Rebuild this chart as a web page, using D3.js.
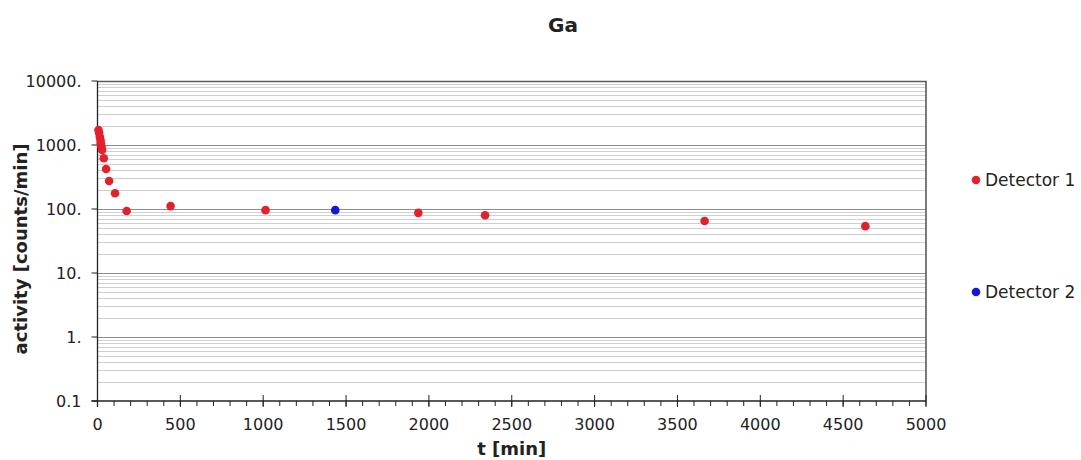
<!DOCTYPE html>
<html>
<head>
<meta charset="utf-8">
<script src="https://cdn.jsdelivr.net/npm/d3@7"></script>
<style>
  body { margin: 0; background: #fff; }
  text { font-family: "DejaVu Sans", Verdana, sans-serif; fill: #222; }
</style>
</head>
<body>
<div id="chart"></div>
<script>
// Ga decay measurements
var det1Time = [6, 10, 14, 18, 20, 24, 28, 38, 52, 70, 106, 176, 441, 1014, 1936, 2339, 3664, 4634];
var det1Act  = [1714, 1540, 1349, 1197, 1064, 940, 835, 620, 422, 274, 176, 93, 111, 96, 87, 80, 65, 54];
var det2Time = [1435];
var det2Act  = [96];
var seriesNames = ["Detector 1", "Detector 2"];
var xTicks = [0, 500, 1000, 1500, 2000, 2500, 3000, 3500, 4000, 4500, 5000];
var yTicks = [0.1, 1, 10, 100, 1000, 10000];
var yLabels = ["0.1", "1.", "10.", "100.", "1000.", "10000."];

var margin = {top: 81, right: 155, bottom: 59, left: 97.5},
    width = 1081 - margin.left - margin.right,
    height = 460 - margin.top - margin.bottom;

var svg = d3.select("#chart").append("svg")
    .attr("width", 1081)
    .attr("height", 460);

var g = svg.append("g")
    .attr("transform", "translate(" + margin.left + "," + margin.top + ")");

var x = d3.scaleLinear().domain([0, 5000]).range([0, width]);
var y = d3.scaleLog().domain([0.1, 10000]).range([height, 0]);

// minor + major grid lines
var minor = [];
yTicks.slice(0, -1).forEach(function(d) {
  for (var k = 2; k <= 9; k++) minor.push(d * k);
});
g.selectAll(".minor").data(minor).enter().append("line")
    .attr("x1", 0).attr("x2", width)
    .attr("y1", function(d) { return Math.round(y(d)) + 0.5; })
    .attr("y2", function(d) { return Math.round(y(d)) + 0.5; })
    .style("stroke", "#cfcfcf");
g.selectAll(".major").data(yTicks.slice(1)).enter().append("line")
    .attr("x1", 0).attr("x2", width)
    .attr("y1", function(d) { return Math.round(y(d)) + 0.5; })
    .attr("y2", function(d) { return Math.round(y(d)) + 0.5; })
    .style("stroke", "#8f8f8f");

// frame top/right
g.append("path")
    .attr("d", "M0,0.5H" + width + "V" + height)
    .style("fill", "none").style("stroke", "#5a5a5a").style("stroke-width", 1.6);

// x axis: minor ticks below, major crossing
var xMinor = d3.range(0, 5001, 100);
g.selectAll(".xm").data(xMinor).enter().append("line")
    .attr("x1", function(d) { return x(d); }).attr("x2", function(d) { return x(d); })
    .attr("y1", height).attr("y2", height + 5)
    .style("stroke", "#222");
g.selectAll(".xM").data(xTicks).enter().append("line")
    .attr("x1", function(d) { return x(d); }).attr("x2", function(d) { return x(d); })
    .attr("y1", height - 6).attr("y2", height + 6)
    .style("stroke", "#222");
g.append("line").attr("x1", -6).attr("x2", width)
    .attr("y1", height).attr("y2", height).style("stroke", "#222").style("stroke-width", 1.3);
g.selectAll(".xl").data(xTicks).enter().append("text")
    .attr("x", function(d) { return x(d); })
    .attr("y", height + 29)
    .attr("text-anchor", "middle")
    .style("font-size", "16px")
    .text(function(d) { return d; });

// y axis
g.append("line").attr("x1", 0).attr("x2", 0)
    .attr("y1", 0).attr("y2", height + 6).style("stroke", "#222").style("stroke-width", 1.3);
g.selectAll(".yM").data(yTicks).enter().append("line")
    .attr("x1", -6).attr("x2", 0)
    .attr("y1", function(d) { return y(d); }).attr("y2", function(d) { return y(d); })
    .style("stroke", "#222");
g.selectAll(".yl").data(yTicks).enter().append("text")
    .attr("x", -16)
    .attr("y", function(d) { return y(d) + 6; })
    .attr("text-anchor", "end")
    .style("font-size", "16px")
    .text(function(d, i) { return yLabels[i]; });

// points
g.selectAll(".d1").data(det1Time).enter().append("circle")
    .attr("cx", function(d) { return x(d); })
    .attr("cy", function(d, i) { return y(det1Act[i]); })
    .attr("r", 4.3)
    .style("fill", "#e3212d");
g.selectAll(".d2").data(det2Time).enter().append("circle")
    .attr("cx", function(d) { return x(d); })
    .attr("cy", function(d, i) { return y(det2Act[i]); })
    .attr("r", 4.3)
    .style("fill", "#1616d6");

// titles
svg.append("text")
    .attr("x", 563).attr("y", 32)
    .attr("text-anchor", "middle")
    .style("font-size", "20px").style("font-weight", "bold")
    .text("Ga");
svg.append("text")
    .attr("x", margin.left + width / 2).attr("y", 455)
    .attr("text-anchor", "middle")
    .style("font-size", "18px").style("font-weight", "bold")
    .text("t [min]");
svg.append("text")
    .attr("transform", "translate(27," + 249 + ") rotate(-90)")
    .attr("text-anchor", "middle")
    .style("font-size", "18px").style("font-weight", "bold")
    .text("activity [counts/min]");

// legend
var legColors = ["#e3212d", "#1616d6"];
var legY = [180, 292];
var leg = svg.selectAll(".leg").data(seriesNames).enter().append("g")
    .attr("transform", function(d, i) { return "translate(976," + legY[i] + ")"; });
leg.append("circle").attr("r", 4.3).style("fill", function(d, i) { return legColors[i]; });
leg.append("text").attr("x", 9).attr("y", 6)
    .style("font-size", "17px")
    .text(function(d) { return d; });
</script>
</body>
</html>
